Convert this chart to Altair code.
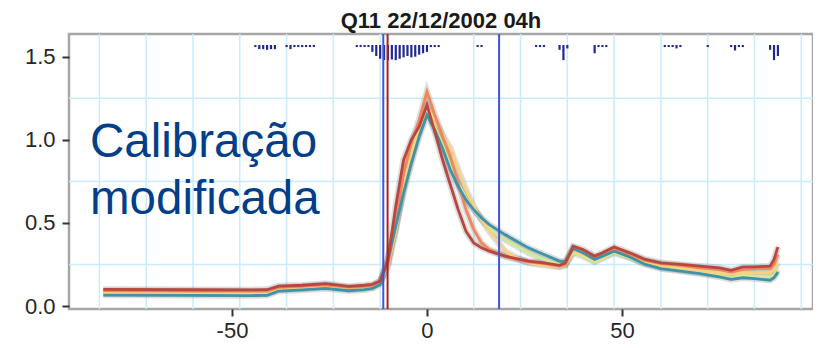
import altair as alt
import pandas as pd

# ---- data ----
hours = [-83, -60, -45, -41, -38, -32, -26, -20, -16, -14,
         -12, -10, -8, -6, -4, -2, 0, 2, 4, 6,
         8, 10, 12, 14, 16, 18, 20, 23, 26, 30,
         34, 35.5, 37.5, 40, 43, 45, 48, 52, 56, 60,
         65, 70, 75, 78, 81, 84, 88, 89, 90]

red = [0.100, 0.098, 0.097, 0.098, 0.120, 0.125, 0.135, 0.118, 0.125, 0.130,
       0.150, 0.280, 0.600, 0.880, 1.000, 1.080, 1.210, 1.050, 0.880, 0.730,
       0.580, 0.450, 0.380, 0.350, 0.330, 0.315, 0.300, 0.285, 0.270, 0.260,
       0.245, 0.260, 0.360, 0.340, 0.300, 0.320, 0.355, 0.320, 0.280, 0.260,
       0.250, 0.240, 0.230, 0.215, 0.235, 0.235, 0.240, 0.280, 0.355]

orange = [0.092, 0.090, 0.089, 0.090, 0.112, 0.118, 0.128, 0.112, 0.118, 0.124,
          0.150, 0.250, 0.500, 0.800, 0.980, 1.120, 1.290, 1.150, 1.020, 0.900,
          0.740, 0.580, 0.460, 0.380, 0.340, 0.320, 0.300, 0.280, 0.265, 0.255,
          0.240, 0.250, 0.350, 0.330, 0.295, 0.310, 0.345, 0.310, 0.275, 0.255,
          0.245, 0.230, 0.220, 0.205, 0.220, 0.225, 0.225, 0.250, 0.310]

yellow = [0.084, 0.082, 0.081, 0.082, 0.106, 0.112, 0.122, 0.106, 0.112, 0.118,
          0.140, 0.240, 0.450, 0.720, 0.930, 1.070, 1.200, 1.120, 1.030, 0.950,
          0.820, 0.700, 0.600, 0.520, 0.450, 0.390, 0.330, 0.290, 0.260, 0.245,
          0.235, 0.245, 0.330, 0.310, 0.275, 0.295, 0.330, 0.300, 0.265, 0.245,
          0.230, 0.215, 0.200, 0.190, 0.200, 0.200, 0.200, 0.215, 0.260]

green = [0.075, 0.073, 0.072, 0.073, 0.098, 0.104, 0.114, 0.099, 0.105, 0.112,
         0.140, 0.280, 0.480, 0.700, 0.880, 1.040, 1.170, 1.080, 0.970, 0.840,
         0.740, 0.650, 0.580, 0.520, 0.470, 0.430, 0.400, 0.360, 0.320, 0.280,
         0.250, 0.250, 0.320, 0.300, 0.265, 0.285, 0.320, 0.290, 0.255, 0.230,
         0.215, 0.200, 0.185, 0.170, 0.185, 0.180, 0.175, 0.185, 0.220]

teal = [0.066, 0.064, 0.063, 0.064, 0.090, 0.097, 0.106, 0.092, 0.098, 0.106,
        0.130, 0.280, 0.480, 0.680, 0.860, 1.020, 1.150, 1.060, 0.950, 0.820,
        0.720, 0.640, 0.580, 0.530, 0.490, 0.460, 0.430, 0.390, 0.350, 0.310,
        0.270, 0.270, 0.345, 0.320, 0.280, 0.300, 0.330, 0.295, 0.250, 0.225,
        0.210, 0.195, 0.175, 0.160, 0.170, 0.165, 0.155, 0.170, 0.205]

series_names = ["verde", "amarelo", "laranja", "azul", "vermelho"]
series_values = [green, yellow, orange, teal, red]
series_colors = ["#d2ea96", "#fbd07e", "#f0865c", "#3e93a6", "#b9463f"]

rain_hours = [-44, -43, -42, -41, -40, -39,
              -36, -35, -34, -33, -32, -31, -30, -29,
              -18, -17, -16, -15, -14, -13, -12, -11, -10, -9, -8, -7, -6, -5,
              -4, -3, -2, -1, 0, 1, 2, 3,
              13, 14, 28, 29, 30, 34, 35, 36, 43, 44, 45, 46,
              61, 62, 63, 64, 65, 72, 78, 79, 80, 81, 88, 89, 90]
rain_values = [0.15, 0.3, 0.3, 0.35, 0.3, 0.3,
               0.15, 0.3, 0.15, 0.15, 0.15, 0.15, 0.15, 0.15,
               0.15, 0.15, 0.15, 0.15, 0.5, 0.8, 1.0, 1.1, 1.1, 1.05, 1.1, 1.0, 0.9, 0.8,
               0.9, 0.85, 0.7, 0.6, 0.5, 0.15, 0.15, 0.15,
               0.15, 0.15, 0.15, 0.15, 0.15, 0.35, 1.1, 0.25, 0.6, 0.15, 0.15, 0.15,
               0.15, 0.15, 0.15, 0.25, 0.15, 0.15, 0.15, 0.4, 0.15, 0.15, 0.35, 1.1, 0.8]

grid_hours = [-84, -72, -60, -48, -36, -24, -12, 12, 24, 36, 48, 60, 72, 84, 96]
grid_values = [0.25, 0.75, 1.25]

blue_events = [-11.2, 18.5]
red_events = [-10.1]

title_text = "Q11 22/12/2002 04h"
note_lines = ["Calibração", "modificada"]

# ---- tables ----
rows = []
for name, vals in zip(series_names, series_values):
    for h, v in zip(hours, vals):
        rows.append({"hour": h, "value": v, "series": name})
df = pd.DataFrame(rows)
rain = pd.DataFrame({"hour": rain_hours, "rain": rain_values})

X_DOM = [-91.8, 99]
Y_DOM = [-0.018, 1.637]
FONT = "Liberation Sans"

xs = alt.Scale(domain=X_DOM, nice=False, zero=False)
ys = alt.Scale(domain=Y_DOM, nice=False, zero=False)

x_axis = alt.Axis(values=[-50, 0, 50], grid=False, domain=False, tickSize=7, tickWidth=2,
                  tickColor="#333333", labelFontSize=22, labelColor="#262626",
                  labelFont=FONT, labelPadding=4, title=None,
                  labelExpr="datum.value < 0 ? '-' + abs(datum.value) : '' + datum.value")


def X():
    return alt.X("hour:Q", scale=xs, axis=x_axis, title=None)


grid_x = alt.Chart(pd.DataFrame({"hour": grid_hours})).mark_rule(
    color="#c8ecfd", strokeWidth=1.5).encode(x=X())
grid_y = alt.Chart(pd.DataFrame({"value": grid_values})).mark_rule(
    color="#c8ecfd", strokeWidth=1.5).encode(
    y=alt.Y("value:Q", scale=ys, axis=None))

rain_layer = alt.Chart(rain).mark_rule(color="#1f2a8c", strokeWidth=2.2, strokeCap="butt").encode(
    x=X(),
    y=alt.Y("zero:Q", scale=alt.Scale(domain=[-0.8, 19.2], reverse=True, nice=False, zero=False), axis=None),
    y2="rain:Q",
).transform_calculate(zero="0")

shadow = alt.Chart(df).mark_line(strokeWidth=6.5, opacity=0.25, color="#7a7a7a").encode(
    x=X(),
    y=alt.Y("value:Q", scale=ys, axis=None),
    detail="series:N",
)

lines = alt.Chart(df).mark_line(strokeWidth=2.8).encode(
    x=X(),
    y=alt.Y("value:Q", scale=ys, title=None,
            axis=alt.Axis(values=[0, 0.5, 1.0, 1.5], format=".1f", grid=False, domain=False,
                          tickSize=7, tickWidth=2, tickColor="#333333", labelFontSize=22,
                          labelColor="#262626", labelFont=FONT, labelPadding=7)),
    color=alt.Color("series:N", scale=alt.Scale(domain=series_names, range=series_colors), legend=None),
    order=alt.Order("hour:Q"),
)

ev_blue = alt.Chart(pd.DataFrame({"hour": blue_events})).mark_rule(color="#3f54d6", strokeWidth=2).encode(x=X())
ev_red = alt.Chart(pd.DataFrame({"hour": red_events})).mark_rule(color="#b01e1e", strokeWidth=2).encode(x=X())

note1 = alt.Chart(pd.DataFrame({"t": [note_lines[0]]})).mark_text(
    align="left", baseline="alphabetic", fontSize=47.5, font=FONT, color="#023f88").encode(
    text="t:N", x=alt.value(21), y=alt.value(123))
note2 = alt.Chart(pd.DataFrame({"t": [note_lines[1]]})).mark_text(
    align="left", baseline="alphabetic", fontSize=47.5, font=FONT, color="#023f88").encode(
    text="t:N", x=alt.value(21), y=alt.value(180))
title_mark = alt.Chart(pd.DataFrame({"t": [title_text]})).mark_text(
    align="center", baseline="alphabetic", fontSize=22, font=FONT, fontWeight="bold", color="#1a1a1a").encode(
    text="t:N", x=alt.value(372), y=alt.value(-6))

chart = alt.layer(grid_x, grid_y, rain_layer, shadow, lines, ev_blue, ev_red,
                  note1, note2, title_mark).resolve_scale(
    y="independent"
).properties(
    width=744, height=275,
    autosize=alt.AutoSizeParams(type="none"),
    padding={"left": 61, "top": 26, "right": 0, "bottom": 38},
).configure_view(stroke="#a6a6a6", strokeWidth=2.5)

chart.save("out.html", embed_options={"renderer": "svg", "actions": False})
